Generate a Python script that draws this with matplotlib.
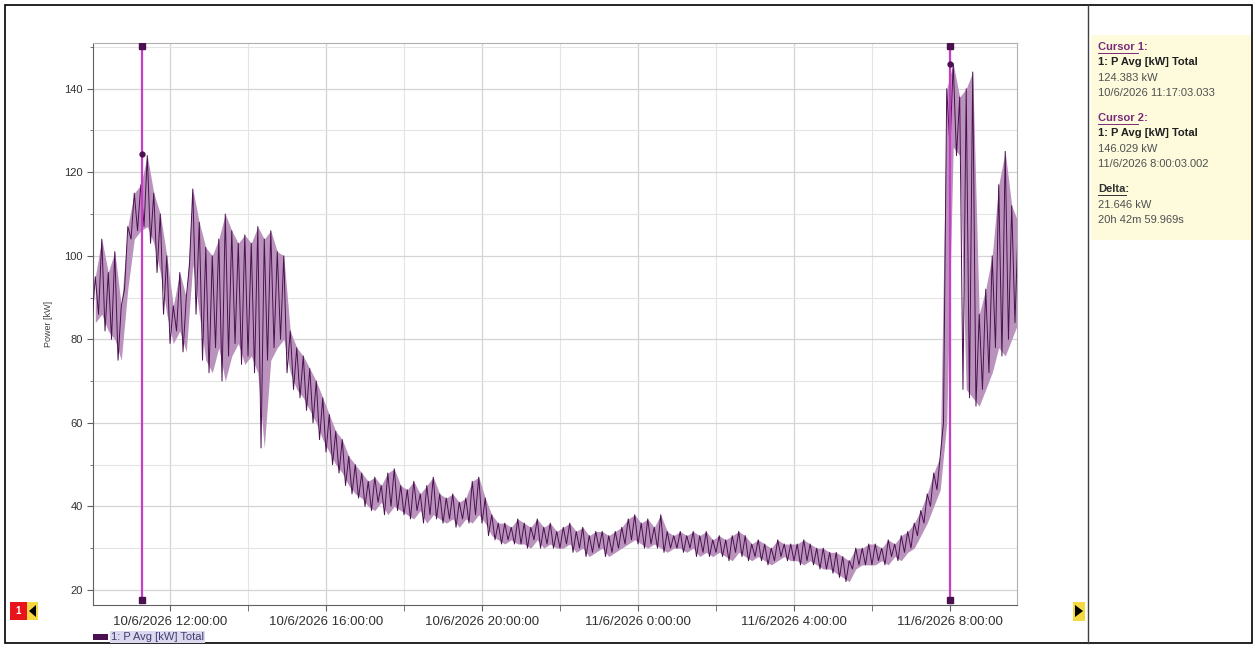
#!/usr/bin/env python
# Power log, 10/6/2026 10:00 to 11/6/2026 9:40, with two cursors

import datetime
import matplotlib
matplotlib.use("Agg")
import matplotlib.pyplot as plt
import matplotlib.dates as mdates
from matplotlib.ticker import FuncFormatter, MultipleLocator
from matplotlib.patches import Rectangle, Polygon

plt.rcParams['font.family'] = ['Liberation Sans', 'DejaVu Sans']

series_name = "1: P Avg [kW] Total"
y_label = "Power [kW]"

# 10-minute bins starting 10/6/2026 10:00, min and max of the bin (kW)
bin_lo = [84, 86, 82, 80, 75, 92,
          104, 106, 107, 103, 96, 86,
          79, 82, 77, 98, 86, 75,
          72, 78, 70, 76, 79, 74,
          76, 72, 54, 75, 78, 80,
          72, 68, 66, 63, 60, 56,
          53, 50, 48, 45, 43, 42,
          40, 39, 41, 38, 40, 39,
          38, 37, 39, 36, 38, 37,
          36, 37, 35, 37, 36, 38,
          36, 33, 32, 31, 32, 31,
          31, 30, 32, 30, 31, 30,
          30, 31, 29, 30, 28, 29,
          30, 28, 29, 30, 31, 32,
          31, 30, 31, 30, 29, 30,
          30, 29, 30, 28, 29, 28,
          29, 28, 27, 29, 28, 27,
          28, 27, 26, 27, 28, 27,
          27, 26, 27, 26, 25, 25,
          24, 23, 22, 25, 26, 26,
          26, 27, 26, 28, 27, 29,
          30, 33, 36, 40, 44, 60,
          126, 124, 68, 66, 64, 68,
          72, 78, 76, 80, 84]
bin_hi = [95, 104, 96, 101, 88, 107,
          115, 117, 124, 115, 110, 100,
          88, 96, 90, 116, 108, 102,
          100, 104, 110, 106, 103, 105,
          103, 107, 104, 106, 101, 100,
          82, 78, 76, 73, 70, 66,
          62, 58, 56, 52, 50, 48,
          46, 47, 45, 48, 49, 45,
          44, 46, 43, 45, 47, 43,
          42, 43, 41, 42, 46, 47,
          42, 38, 36, 36, 35, 37,
          36, 35, 37, 35, 36, 34,
          35, 36, 34, 35, 33, 34,
          34, 33, 34, 35, 37, 38,
          36, 37, 35, 38, 34, 33,
          34, 33, 34, 33, 34, 32,
          33, 32, 33, 34, 33, 31,
          32, 31, 30, 32, 31, 31,
          31, 32, 31, 30, 30, 29,
          29, 28, 27, 30, 30, 31,
          31, 30, 32, 31, 33, 34,
          36, 39, 43, 48, 52, 140,
          146, 138, 140, 144, 86, 92,
          100, 117, 125, 112, 108]

start = datetime.datetime(2026, 6, 10, 10, 0, 0)
step = datetime.timedelta(minutes=10)
half = datetime.timedelta(minutes=5)
bin_times = [start + i * step for i in range(len(bin_lo))]

cursor_times = [datetime.datetime(2026, 6, 10, 11, 17, 3),
                datetime.datetime(2026, 6, 11, 8, 0, 3)]
cursor_values = [124.383, 146.029]

info_lines = [
    ("Cursor 1:", "head"), (series_name, "bold"), ("124.383 kW", "plain"),
    ("10/6/2026 11:17:03.033", "plain"), ("", "gap"),
    ("Cursor 2:", "head"), (series_name, "bold"), ("146.029 kW", "plain"),
    ("11/6/2026 8:00:03.002", "plain"), ("", "gap"),
    ("Delta:", "delta"), ("21.646 kW", "plain"), ("20h 42m 59.969s", "plain"),
]

line_col = "#4b1050"
fill_col = "#b993bc"
cursor_col = "#c83cc8"


def fmt_tick(x, pos):
    d = mdates.num2date(x)
    return "%d/%d/%d %d:%02d:%02d" % (d.day, d.month, d.year, d.hour, d.minute, d.second)


# zigzag through min/max of every bin
zz_t, zz_v = [], []
for t, lo, hi in zip(bin_times, bin_lo, bin_hi):
    zz_t += [t, t + half]
    zz_v += [lo, hi]

fig = plt.figure(figsize=(12.57, 6.48), dpi=100)
ax = fig.add_axes([0.074, 0.0664, 0.735, 0.8676])

ax.fill_between([t + half for t in bin_times], bin_lo, bin_hi, color=fill_col, lw=0, zorder=2)
ax.plot(zz_t, zz_v, color=line_col, lw=0.7, zorder=3)

y_top, y_bot = 150.3, 17.6
for ct, cv in zip(cursor_times, cursor_values):
    ax.plot([ct, ct], [y_bot, y_top], color=cursor_col, lw=1.6, zorder=4)
    ax.plot([ct, ct], [y_bot, y_top], ls='none', marker='s', ms=4.5, color=line_col, zorder=5)
    ax.plot([ct], [cv], ls='none', marker='o', ms=3.5, color=line_col, zorder=5)

ax.set_xlim(datetime.datetime(2026, 6, 10, 10, 1, 30), datetime.datetime(2026, 6, 11, 9, 43, 0))
ax.set_ylim(16.4, 151)

ax.xaxis.set_major_locator(mdates.HourLocator(byhour=[0, 4, 8, 12, 16, 20]))
ax.xaxis.set_minor_locator(mdates.HourLocator(byhour=range(0, 24, 2)))
ax.xaxis.set_major_formatter(FuncFormatter(fmt_tick))
ax.yaxis.set_major_locator(MultipleLocator(20))
ax.yaxis.set_minor_locator(MultipleLocator(10))

ax.grid(which='major', color='#d4d4d4', lw=0.9)
ax.grid(which='minor', color='#e4e4e4', lw=0.8)
ax.set_axisbelow(True)
ax.tick_params(axis='both', which='both', direction='out', colors='#606060', labelcolor='#303030')
ax.tick_params(axis='x', which='major', labelsize=9.5, length=4, pad=4)
ax.tick_params(axis='x', which='minor', length=4)
ax.tick_params(axis='y', which='major', labelsize=8, length=4)
ax.tick_params(axis='y', which='minor', length=2)
for s in ax.spines.values():
    s.set_color('#b0b0b0')
ax.spines['left'].set_color('#606060')
ax.spines['bottom'].set_color('#606060')
ax.set_ylabel(y_label, fontsize=6.5, color='#404040', labelpad=8)

# outer frame and separator
fig.patches.append(Rectangle((5 / 1257, 5 / 648), 1247 / 1257, 638 / 648, transform=fig.transFigure,
                             fill=False, ec='black', lw=1.2))
fig.add_artist(plt.Line2D([1088 / 1257, 1088 / 1257], [5 / 648, 643 / 648], transform=fig.transFigure,
                          color='#404040', lw=1))

# cursor info panel
fig.patches.append(Rectangle((1091 / 1257, 408 / 648), 160 / 1257, 205 / 648, transform=fig.transFigure,
                             fc='#fdfbdc', ec='none'))
y = 1 - 47 / 648
for txt, kind in info_lines:
    if kind == "gap":
        y -= 10 / 648
        continue
    if kind == "head":
        fig.text(1098 / 1257, y, txt, fontsize=8, color='#7a2a7a', weight='bold', va='center')
        fig.add_artist(plt.Line2D([1098 / 1257, 1138 / 1257], [y - 6 / 648, y - 6 / 648],
                                  transform=fig.transFigure, color='#7a2a7a', lw=0.7))
    elif kind == "delta":
        fig.text(1098 / 1257, y, txt, fontsize=8, color='#303030', weight='bold', va='center')
        fig.add_artist(plt.Line2D([1098 / 1257, 1126 / 1257], [y - 6 / 648, y - 6 / 648],
                                  transform=fig.transFigure, color='#303030', lw=0.7))
    elif kind == "bold":
        fig.text(1098 / 1257, y, txt, fontsize=8, color='#202020', weight='bold', va='center')
    else:
        fig.text(1098 / 1257, y, txt, fontsize=8, color='#505050', va='center')
    y -= 15.3 / 648

# scroll markers
fig.patches.append(Rectangle((10 / 1257, 28 / 648), 17 / 1257, 18 / 648, transform=fig.transFigure,
                             fc='#e8141c', ec='none'))
fig.text(18.5 / 1257, 37 / 648, "1", fontsize=7, color='white', weight='bold', ha='center', va='center')
fig.patches.append(Rectangle((27 / 1257, 28 / 648), 11 / 1257, 18 / 648, transform=fig.transFigure,
                             fc='#f6d840', ec='none'))
fig.patches.append(Polygon([(36 / 1257, 31 / 648), (36 / 1257, 43 / 648), (29 / 1257, 37 / 648)],
                           transform=fig.transFigure, fc='black', ec='none'))
fig.patches.append(Rectangle((1073 / 1257, 27 / 648), 12 / 1257, 19 / 648, transform=fig.transFigure,
                             fc='#f6d840', ec='none'))
fig.patches.append(Polygon([(1075 / 1257, 31 / 648), (1075 / 1257, 43 / 648), (1083 / 1257, 37 / 648)],
                           transform=fig.transFigure, fc='black', ec='none'))

# legend
fig.patches.append(Rectangle((93 / 1257, 8 / 648), 15 / 1257, 6 / 648, transform=fig.transFigure,
                             fc=line_col, ec='none'))
fig.text(111 / 1257, 11 / 648, series_name, fontsize=8, color='#404070', va='center',
         bbox=dict(fc='#dcd8f0', ec='none', pad=0.8))

fig.savefig("out.png", dpi=100)
